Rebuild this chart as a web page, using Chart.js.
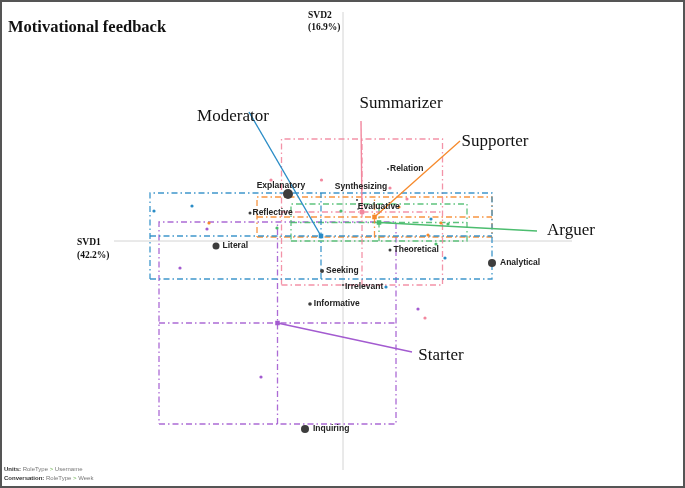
<!DOCTYPE html>
<html>
<head>
<meta charset="utf-8">
<script src="https://cdn.jsdelivr.net/npm/chart.js@4"></script>
<style>
html, body { margin: 0; padding: 0; background: #fff; }
canvas { display: block; }
</style>
</head>
<body>
<canvas id="ena" width="685" height="488"></canvas>
<script>
// role types: means and confidence half-widths (SVD units)
const groups = ["Moderator", "Summarizer", "Supporter", "Arguer", "Starter"];
const meanX = [-0.11, 0.095, 0.1575, 0.18, -0.3275];
const meanY = [0.025, 0.145, 0.12, 0.0925, -0.41];
const ciX = [0.855, 0.4025, 0.5875, 0.44, 0.5925];
const ciY = [0.215, 0.365, 0.1, 0.0925, 0.505];
// end of the leader line that points to each role name
const tagX = [-0.47, 0.09, 0.585, 0.97, 0.345];
const tagY = [0.645, 0.6, 0.5, 0.05, -0.555];

// individual units per role type
const unitsModerator = [[-0.945, 0.15], [-0.755, 0.175], [0.215, -0.23], [0.51, -0.085], [0.44, 0.11]];
const unitsSummarizer = [[-0.36, 0.305], [-0.1075, 0.305], [0.235, 0.265], [0.32, 0.21], [0.41, -0.385]];
const unitsSupporter = [[-0.67, 0.09], [0.28, 0.17], [0.49, 0.09], [0.425, 0.03]];
const unitsArguer = [[-0.01, 0.15], [-0.33, 0.065], [0.525, 0.085], [0.465, -0.015]];
const unitsStarter = [[-0.68, 0.06], [-0.815, -0.135], [-0.41, -0.68], [0.375, -0.34]];
const units = [unitsModerator, unitsSummarizer, unitsSupporter, unitsArguer, unitsStarter];

// codes (network nodes)
const codes = ["Explanatory", "Reflective", "Literal", "Seeking", "Irrelevant", "Informative",
  "Inquiring", "Theoretical", "Analytical", "Relation", "Synthesizing", "Evaluative"];
const codeX = [-0.275, -0.465, -0.635, -0.105, 0.0, -0.165, -0.19, 0.235, 0.745, 0.225, 0.07, 0.075];
const codeY = [0.235, 0.14, -0.025, -0.15, -0.22, -0.315, -0.94, -0.045, -0.11, 0.36, 0.205, 0.16];
const codeWeight = [5, 1.5, 3.5, 2, 1, 1.8, 4, 1.5, 4, 1, 1, 0.8];

const axisExtent = 1.145;

// styling
const groupColors = ["#2a8cc6", "#f2879e", "#f68a2c", "#4cbd6f", "#a35bd0"];
const nameOffset = [[-16, 5, "center"], [40, -17, "center"], [35, 1, "center"], [10, 0, "left"], [29, 4, "center"]];
const codeOffset = [[-7, -8, "center"], [3, 0, "left"], [5, 0, "left"], [4, 0, "left"], [3, 2, "left"],
  [4, 0, "left"], [6, 0, "left"], [4, 0, "left"], [6, 0, "left"], [3, 0, "left"], [4, -13, "center"], [1, -2, "left"]];

const pt = (a) => ({ x: a[0], y: a[1] });
const dashDot = [6, 3, 1.5, 3];
const datasets = [];

datasets.push({
  type: "line", data: [{ x: -axisExtent, y: 0 }, { x: axisExtent, y: 0 }],
  borderColor: "#d4d4d4", borderWidth: 1, pointRadius: 0, order: 20
});
datasets.push({
  type: "line", data: [{ x: 0, y: -axisExtent }, { x: 0, y: axisExtent }],
  borderColor: "#d4d4d4", borderWidth: 1, pointRadius: 0, order: 20
});

groups.forEach((g, i) => {
  const c = groupColors[i];
  const x0 = meanX[i] - ciX[i], x1 = meanX[i] + ciX[i];
  const y0 = meanY[i] - ciY[i], y1 = meanY[i] + ciY[i];
  const boxStyle = { type: "line", borderColor: c + "e6", borderWidth: 1.3, borderDash: dashDot, pointRadius: 0, order: 10 };
  datasets.push(Object.assign({ data: [{ x: x0, y: y0 }, { x: x1, y: y0 }, { x: x1, y: y1 }, { x: x0, y: y1 }, { x: x0, y: y0 }] }, boxStyle));
  datasets.push(Object.assign({ data: [{ x: x0, y: meanY[i] }, { x: x1, y: meanY[i] }] }, boxStyle));
  datasets.push(Object.assign({ data: [{ x: meanX[i], y: y0 }, { x: meanX[i], y: y1 }] }, boxStyle));
  datasets.push({
    type: "scatter", data: units[i].map(pt), backgroundColor: c, borderWidth: 0, pointRadius: 1.6, order: 8
  });
  datasets.push({
    type: "line", data: [{ x: meanX[i], y: meanY[i] }, { x: tagX[i], y: tagY[i] }],
    borderColor: c, borderWidth: 1.4, pointRadius: 0, order: 6
  });
  datasets.push({
    type: "scatter", data: [{ x: meanX[i], y: meanY[i] }], pointStyle: "rect",
    backgroundColor: c, borderWidth: 0, pointRadius: 3.2, order: 5
  });
});

datasets.push({
  type: "scatter", data: codes.map((n, i) => ({ x: codeX[i], y: codeY[i] })),
  backgroundColor: "#3d3d3d", borderWidth: 0,
  pointRadius: codeWeight, order: 2
});

const textPlugin = {
  id: "enaText",
  afterDatasetsDraw(chart) {
    const ctx = chart.ctx;
    const xs = chart.scales.x, ys = chart.scales.y;
    ctx.save();
    ctx.textBaseline = "middle";
    // code labels
    ctx.font = "bold 8.5px 'Liberation Sans', Arial, sans-serif";
    ctx.fillStyle = "#222";
    codes.forEach((n, i) => {
      const o = codeOffset[i];
      ctx.textAlign = o[2];
      const dx = o[2] === "left" ? codeWeight[i] + o[0] - 2 : o[0];
      ctx.fillText(n, xs.getPixelForValue(codeX[i]) + dx, ys.getPixelForValue(codeY[i]) + o[1]);
    });
    // role names
    ctx.font = "17px 'Liberation Serif', 'Times New Roman', serif";
    ctx.fillStyle = "#111";
    groups.forEach((g, i) => {
      const o = nameOffset[i];
      ctx.textAlign = o[2];
      ctx.fillText(g, xs.getPixelForValue(tagX[i]) + o[0], ys.getPixelForValue(tagY[i]) + o[1]);
    });
    // axis names
    ctx.textBaseline = "alphabetic";
    ctx.textAlign = "left";
    ctx.font = "bold 9.5px 'Liberation Serif', 'Times New Roman', serif";
    const ax = xs.getPixelForValue(-axisExtent), ay = ys.getPixelForValue(0);
    ctx.fillText("SVD1", ax - 37, ay + 4);
    ctx.fillText("(42.2%)", ax - 37, ay + 17);
    const bx = xs.getPixelForValue(0), by = ys.getPixelForValue(axisExtent);
    ctx.fillText("SVD2", bx - 35, by + 6);
    ctx.fillText("(16.9%)", bx - 35, by + 18);
    // title
    ctx.font = "bold 16.5px 'Liberation Serif', 'Times New Roman', serif";
    ctx.fillText("Motivational feedback", 8, 31.5);
    // footer
    const foot = (y, parts) => {
      let x = 4;
      parts.forEach(p => {
        ctx.font = (p[2] ? "bold " : "") + "6px 'Liberation Sans', Arial, sans-serif";
        ctx.fillStyle = p[1];
        ctx.fillText(p[0], x, y);
        x += ctx.measureText(p[0]).width;
      });
    };
    foot(471, [["Units: ", "#333", true], ["RoleType ", "#777"], ["> ", "#6ab04c"], ["Username", "#777"]]);
    foot(480, [["Conversation: ", "#333", true], ["RoleType ", "#777"], ["> ", "#6ab04c"], ["Week", "#777"]]);
    // frame
    ctx.strokeStyle = "#555";
    ctx.lineWidth = 2;
    ctx.strokeRect(1, 1, chart.width - 2, chart.height - 2);
    ctx.restore();
  }
};

new Chart(document.getElementById("ena"), {
  type: "scatter",
  data: { datasets: datasets },
  options: {
    responsive: false,
    animation: false,
    layout: { padding: 0, autoPadding: false },
    plugins: { legend: { display: false }, tooltip: { enabled: false } },
    scales: {
      x: { type: "linear", min: -1.715, max: 1.71, display: false },
      y: { type: "linear", min: -1.235, max: 1.205, display: false }
    }
  },
  plugins: [textPlugin]
});
</script>
</body>
</html>
